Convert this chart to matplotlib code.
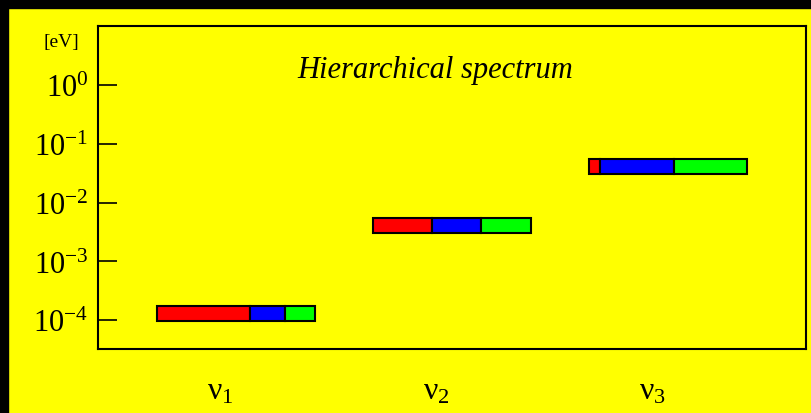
import numpy as np
import matplotlib
matplotlib.use("Agg")
import matplotlib.pyplot as plt
from matplotlib.patches import Rectangle
from matplotlib.ticker import LogFormatterMathtext, NullLocator

plt.rcParams['font.family'] = ['Liberation Serif', 'DejaVu Serif']
plt.rcParams['mathtext.default'] = 'regular'

# data: masses (eV) and flavour content of each mass state
states = [r'$\nu_1$', r'$\nu_2$', r'$\nu_3$']
masses = [1.3e-4, 4.1e-3, 4.2e-2]
frac_e = [0.59, 0.37, 0.065]
frac_mu = [0.22, 0.315, 0.47]
frac_tau = [0.19, 0.315, 0.465]
colors = ['#ff0000', '#0000ff', '#00ff00']

yellow = '#ffff00'
bar_w = 0.73      # total width of a bar in category units
bar_h = 0.255     # height in decades

fig = plt.figure(figsize=(8.12, 4.14), dpi=100, facecolor=yellow)
ax = fig.add_axes([0.1207, 0.1534, 0.8719, 0.7802])
ax.set_facecolor(yellow)

# black frame strips at top and left of the figure
fig.patches.append(Rectangle((0, 0), 8 / 812, 1, transform=fig.transFigure,
                             color='black', zorder=-1))
fig.patches.append(Rectangle((0, 1 - 9 / 414), 1, 9 / 414, transform=fig.transFigure,
                             color='black', zorder=-1))

x = np.arange(len(states))
y = np.array(masses)
ylo = y * 10 ** (-bar_h / 2)
yhi = y * 10 ** (bar_h / 2)
left = x - bar_w / 2
for fr, c in zip([frac_e, frac_mu, frac_tau], colors):
    w = np.array(fr) * bar_w
    for xi, wi, lo, hi in zip(left, w, ylo, yhi):
        ax.add_patch(Rectangle((xi, lo), wi, hi - lo, facecolor=c,
                               edgecolor='black', linewidth=1.5))
    left = left + w

ax.set_yscale('log')
ax.set_ylim(10 ** -4.5, 10 ** 1)
ax.set_xlim(-0.64, 2.6375)
ax.set_yticks([1e-4, 1e-3, 1e-2, 1e-1, 1e0])
ax.yaxis.set_minor_locator(NullLocator())
ax.yaxis.set_major_formatter(LogFormatterMathtext())
ax.tick_params(axis='y', direction='in', length=13.5, width=1.2, pad=7,
               labelsize=22)
ax.set_xticks([])
for s in ax.spines.values():
    s.set_linewidth(1.5)

for xi, lab in zip(x, states):
    ax.text(xi - 0.075, -0.13, lab, transform=ax.get_xaxis_transform(),
            ha='center', va='center', fontsize=23)

ax.text(0.476, 0.868, 'Hierarchical spectrum', transform=ax.transAxes,
        ha='center', va='center', fontsize=22, style='italic')
fig.text(61 / 812, 1 - 42 / 414, '[eV]', ha='center', va='center', fontsize=14)

fig.savefig('out.png', dpi=100, facecolor=yellow)
